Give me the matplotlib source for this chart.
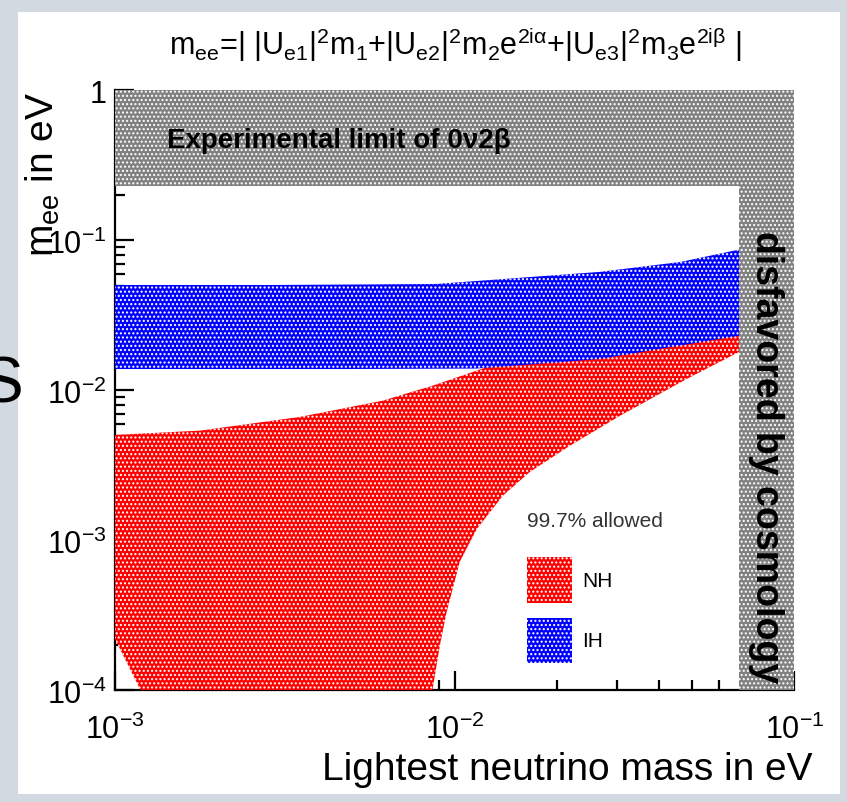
import math

import matplotlib.pyplot as plt
from matplotlib.patches import Patch, Rectangle
from matplotlib.ticker import FuncFormatter, LogLocator

plt.rcParams['font.family'] = ['Liberation Sans', 'DejaVu Sans']
plt.rcParams['mathtext.fontset'] = 'custom'
plt.rcParams['mathtext.rm'] = 'Liberation Sans'
plt.rcParams['mathtext.it'] = 'Liberation Sans:italic'
plt.rcParams['mathtext.default'] = 'regular'
plt.rcParams['hatch.linewidth'] = 1.0

# inverted hierarchy: upper and lower edge of m_ee vs lightest mass
ih_m = [0.001, 0.003, 0.00885, 0.0267, 0.0462, 0.0689]
ih_upper = [0.0505, 0.0505, 0.0513, 0.0617, 0.0719, 0.0870]
ih_low_m = [0.001, 0.005, 0.0116, 0.0267, 0.0689]
ih_lower = [0.0139, 0.0139, 0.0140, 0.0162, 0.0232]

# normal hierarchy: upper edge
nh_up_m = [0.001, 0.00178, 0.0035, 0.00614, 0.00861, 0.0116, 0.02, 0.0689]
nh_upper = [0.00505, 0.0054, 0.00666, 0.00855, 0.01076, 0.01355, 0.021, 0.07]
# normal hierarchy: lower edge (cancellation region drops off the plot)
nh_low_m = [0.001, 0.00119, 0.0013, 0.0084, 0.00861, 0.00904, 0.00947, 0.01035,
            0.01161, 0.01384, 0.01663, 0.0218, 0.0306, 0.0481, 0.0689]
nh_lower = [0.00022, 0.0001, 0.00001, 0.00001, 0.000102, 0.000198, 0.000334, 0.00072,
            0.00119, 0.00198, 0.00286, 0.00427, 0.00676, 0.0119, 0.0181]

# excluded regions
exp_limit = 0.231
cosmo_limit = 0.0689

xmin, xmax = 1e-3, 1e-1
ymin, ymax = 1e-4, 1.0

band_gray = '#808080'

fig = plt.figure(figsize=(8.47, 8.03), dpi=100, facecolor='#d3d9e1')
fig.patches.append(Rectangle((18 / 847, 8 / 803), 822 / 847, 782 / 803,
                             transform=fig.transFigure, facecolor='white',
                             edgecolor='none', zorder=-1))
fig.text(-0.024, 0.52, 'S', fontsize=46, color='black', ha='left', va='center')

ax = fig.add_axes([0.1358, 0.1389, 0.802, 0.7472])
ax.set_xscale('log')
ax.set_yscale('log')
ax.set_xlim(xmin, xmax)
ax.set_ylim(ymin, ymax)
ax.set_facecolor('none')

# NH band
nh_x = nh_up_m + nh_low_m[::-1]
nh_y = nh_upper + nh_lower[::-1]
ax.fill(nh_x, nh_y, facecolor='#ff0000', edgecolor='white', hatch='....',
        linewidth=0, zorder=2)

# IH band on top
ih_x = ih_m + ih_low_m[::-1]
ih_y = ih_upper + ih_lower[::-1]
ax.fill(ih_x, ih_y, facecolor='#0000ff', edgecolor='white', hatch='....',
        linewidth=0, zorder=3)

# experimental limit and cosmology bands
ax.fill_between([xmin, xmax], exp_limit, ymax, facecolor=band_gray,
                edgecolor='white', hatch='....', linewidth=0, zorder=4)
ax.fill_between([cosmo_limit, xmax], ymin, ymax, facecolor=band_gray,
                edgecolor='white', hatch='....', linewidth=0, zorder=4)

ax.text(1.42e-3, 0.47, 'Experimental limit of 0ν2β', fontsize=20,
        fontweight='bold', ha='left', va='center', zorder=5)
ax.text(0.0828, 0.00366, 'disfavored by cosmology', fontsize=27,
        fontweight='bold', rotation=-90, ha='center', va='center', zorder=5)

# axes styling: ticks inside, frame under the fills
for side in ['top', 'right']:
    ax.spines[side].set_visible(False)
for side in ['left', 'bottom']:
    ax.spines[side].set_linewidth(1.6)
    ax.spines[side].set_zorder(1)
ax.set_axisbelow(True)
ax.xaxis.set_major_locator(LogLocator(base=10, numticks=10))
ax.yaxis.set_major_locator(LogLocator(base=10, numticks=10))
ax.xaxis.set_minor_locator(LogLocator(base=10, subs=range(2, 10), numticks=20))
ax.yaxis.set_minor_locator(LogLocator(base=10, subs=range(2, 10), numticks=20))


def log_label(v, pos):
    if abs(v - 1) < 1e-9:
        return '1'
    return r'$\mathdefault{10^{%d}}$' % round(math.log10(v))


ax.xaxis.set_major_formatter(FuncFormatter(log_label))
ax.yaxis.set_major_formatter(FuncFormatter(log_label))
ax.tick_params(which='both', direction='in', width=1.6, labelsize=22,
               top=False, right=False)
ax.tick_params(which='major', length=14)
ax.tick_params(which='minor', length=7)
ax.tick_params(axis='x', which='major', pad=17)
ax.tick_params(axis='y', which='major', pad=6)

fig.text(812 / 847, 1 - 770 / 803, 'Lightest neutrino mass in eV',
         fontsize=28, ha='right', va='center')
fig.text(43 / 847, 1 - 92 / 803, r'$m_{ee}$ in eV', fontsize=28,
         rotation=90, ha='center', va='top')
fig.text(455 / 847, 1 - 44 / 803,
         r'$m_{ee}$=| |U$_{e1}$|$^{2}$m$_{1}$+|U$_{e2}$|$^{2}$m$_{2}$e$^{2i\alpha}$'
         r'+|U$_{e3}$|$^{2}$m$_{3}$e$^{2i\beta}$ |',
         fontsize=22, ha='center', va='center')

handles = [Patch(facecolor='#ff0000', edgecolor='white', hatch='....', linewidth=0),
           Patch(facecolor='#0000ff', edgecolor='white', hatch='....', linewidth=0)]
leg = ax.legend(handles, ['NH', 'IH'], title='99.7% allowed', loc='upper left',
                bbox_to_anchor=(517 / 847, 1 - 502 / 803),
                bbox_transform=fig.transFigure, frameon=False, fontsize=15,
                title_fontsize=15, handlelength=2.16, handleheight=3.0,
                labelspacing=0.72, handletextpad=0.45, borderpad=0,
                alignment='left')
leg.get_title().set_color('#333333')
leg._legend_box.sep = 19
leg.set_zorder(6)

fig.savefig('out.png', dpi=100, facecolor=fig.get_facecolor())
